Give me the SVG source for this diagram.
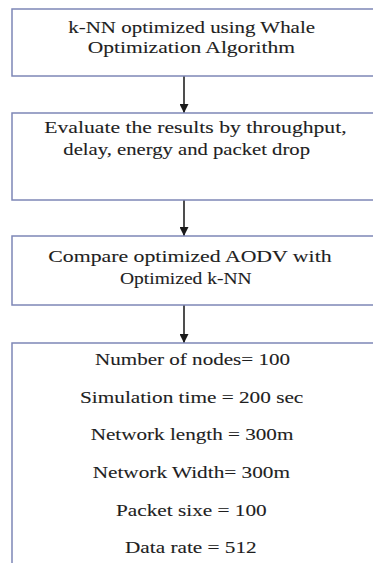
<svg xmlns="http://www.w3.org/2000/svg" width="373" height="563" viewBox="0 0 373 563">
<defs>
<style>
.box{fill:#ffffff;stroke:#7e87b6;stroke-width:1.5}
.t{font-family:'Liberation Serif','Times New Roman',Times,'DejaVu Serif',serif;font-size:17px;fill:#1e1e1e;stroke:#1e1e1e;stroke-width:0.1}
.c{stroke:#222222;stroke-width:1.6;fill:none}
</style>
<marker id="ah" viewBox="0 0 10 10" refX="10" refY="5" markerWidth="9" markerHeight="9" markerUnits="userSpaceOnUse" orient="auto">
<path d="M0,0 L10,5 L0,10 Z" fill="#1a1a1a"/>
</marker>
</defs>
<rect width="373" height="563" fill="#ffffff"/>
<g id="connectors">
<line class="c" x1="184" y1="76" x2="184" y2="113" marker-end="url(#ah)"/>
<line class="c" x1="184" y1="200" x2="184" y2="236" marker-end="url(#ah)"/>
<line class="c" x1="184" y1="305" x2="184" y2="343" marker-end="url(#ah)"/>
</g>
<g id="n1">
<rect class="box" x="12" y="9" width="370" height="67"/>
<text class="t" x="68.3" y="33" textLength="246.7" lengthAdjust="spacingAndGlyphs">k-NN optimized using Whale</text>
<text class="t" x="87.7" y="53" textLength="207.3" lengthAdjust="spacingAndGlyphs">Optimization Algorithm</text>
</g>
<g id="n2">
<rect class="box" x="12" y="113" width="370" height="87"/>
<text class="t" x="44.3" y="133.3" textLength="302.3" lengthAdjust="spacingAndGlyphs">Evaluate the results by throughput,</text>
<text class="t" x="63.3" y="155.3" textLength="246.7" lengthAdjust="spacingAndGlyphs">delay, energy and packet drop</text>
</g>
<g id="n3">
<rect class="box" x="12" y="236" width="370" height="69"/>
<text class="t" x="48.3" y="262" textLength="283.3" lengthAdjust="spacingAndGlyphs">Compare optimized AODV with</text>
<text class="t" x="120" y="284" textLength="131.7" lengthAdjust="spacingAndGlyphs">Optimized k-NN</text>
</g>
<g id="n4">
<rect class="box" x="12" y="343" width="370" height="240"/>
<text class="t" x="95" y="365" textLength="195" lengthAdjust="spacingAndGlyphs">Number of nodes= 100</text>
<text class="t" x="80" y="402.5" textLength="223.3" lengthAdjust="spacingAndGlyphs">Simulation time = 200 sec</text>
<text class="t" x="90.7" y="440" textLength="202.7" lengthAdjust="spacingAndGlyphs">Network length = 300m</text>
<text class="t" x="92.7" y="478" textLength="197.3" lengthAdjust="spacingAndGlyphs">Network Width= 300m</text>
<text class="t" x="116" y="515.5" textLength="150.7" lengthAdjust="spacingAndGlyphs">Packet sixe = 100</text>
<text class="t" x="125" y="552.5" textLength="131.7" lengthAdjust="spacingAndGlyphs">Data rate = 512</text>
</g>
</svg>
